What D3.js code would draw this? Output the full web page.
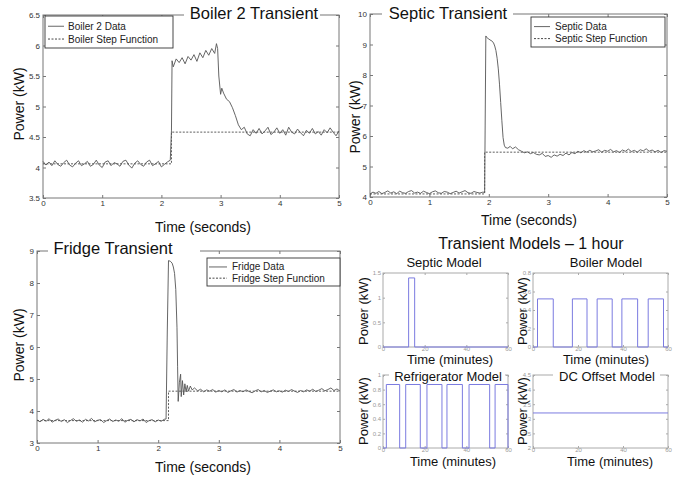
<!DOCTYPE html>
<html>
<head>
<meta charset="utf-8">
<title>Transients</title>
<script src="https://cdn.jsdelivr.net/npm/d3@7"></script>
<style>
  body { margin: 0; background: #fff; }
  svg { display: block; }
</style>
</head>
<body>
<script>
// ---- data ----
const secondTicks = [0, 1, 2, 3, 4, 5];
const minuteTicks = [0, 20, 40, 60];
const boilerYTicks = [3.5, 4, 4.5, 5, 5.5, 6, 6.5];
const septicYTicks = [4, 5, 6, 7, 8, 9, 10];
const fridgeYTicks = [3, 4, 5, 6, 7, 8, 9];

// [seconds, kW]
const boilerData = [
  [0,4.10],[0.05,4.04],[0.1,4.09],[0.15,4.03],[0.2,4.11],[0.25,4.05],[0.3,4.02],[0.35,4.08],[0.4,4.12],[0.45,4.04],
  [0.5,4.01],[0.55,4.07],[0.6,4.11],[0.65,4.03],[0.7,4.06],[0.75,4.10],[0.8,4.02],[0.85,4.05],[0.9,4.12],[0.95,4.04],
  [1.0,4.00],[1.05,4.09],[1.1,4.11],[1.15,4.03],[1.2,4.08],[1.25,4.06],[1.3,4.02],[1.35,4.10],[1.4,4.12],[1.45,4.04],
  [1.5,3.99],[1.55,4.07],[1.6,4.11],[1.65,4.05],[1.7,4.02],[1.75,4.09],[1.8,4.12],[1.85,4.03],[1.9,4.06],[1.95,4.10],
  [2.0,4.01],[2.05,4.05],[2.1,4.09],[2.15,4.12],[2.17,4.6],[2.18,5.75],[2.2,5.65],[2.25,5.78],[2.3,5.72],[2.35,5.80],
  [2.4,5.70],[2.45,5.82],[2.5,5.76],[2.55,5.85],[2.6,5.74],[2.65,5.88],[2.7,5.80],[2.75,5.92],[2.8,5.84],[2.85,5.95],
  [2.9,5.87],[2.93,6.03],[2.95,5.95],[2.97,5.5],[3.0,5.2],[3.02,5.3],[3.05,5.22],[3.1,5.12],[3.15,5.08],[3.2,4.98],
  [3.25,4.85],[3.3,4.70],[3.35,4.62],[3.4,4.66],[3.45,4.55],[3.5,4.52],[3.55,4.62],[3.6,4.56],[3.65,4.64],[3.7,4.55],
  [3.75,4.60],[3.8,4.66],[3.85,4.54],[3.9,4.58],[3.95,4.65],[4.0,4.56],[4.05,4.62],[4.1,4.53],[4.15,4.66],[4.2,4.58],
  [4.25,4.55],[4.3,4.63],[4.35,4.57],[4.4,4.52],[4.45,4.61],[4.5,4.56],[4.55,4.64],[4.6,4.55],[4.65,4.59],[4.7,4.53],
  [4.75,4.62],[4.8,4.57],[4.85,4.65],[4.9,4.58],[4.95,4.52],[5.0,4.60]
];
const boilerStep = [[0,4.06],[2.17,4.06],[2.17,4.58],[5,4.58]];

const septicData = [
  [0,4.10],[0.05,4.16],[0.1,4.12],[0.15,4.18],[0.2,4.11],[0.25,4.15],[0.3,4.20],[0.35,4.13],[0.4,4.17],[0.45,4.11],
  [0.5,4.19],[0.55,4.14],[0.6,4.12],[0.65,4.18],[0.7,4.21],[0.75,4.13],[0.8,4.16],[0.85,4.12],[0.9,4.19],[0.95,4.15],
  [1.0,4.11],[1.05,4.17],[1.1,4.20],[1.15,4.14],[1.2,4.12],[1.25,4.18],[1.3,4.16],[1.35,4.11],[1.4,4.15],[1.45,4.19],
  [1.5,4.13],[1.55,4.17],[1.6,4.21],[1.65,4.14],[1.7,4.12],[1.75,4.18],[1.8,4.15],[1.85,4.13],[1.9,4.16],[1.93,4.15],
  [1.95,9.28],[1.98,9.2],[2.0,9.18],[2.02,9.15],[2.05,9.12],[2.08,9.05],[2.1,8.95],[2.12,8.8],[2.14,8.55],[2.16,8.2],
  [2.18,7.7],[2.2,7.1],[2.22,6.5],[2.24,5.95],[2.26,5.7],[2.28,5.62],[2.32,5.60],[2.36,5.66],[2.4,5.58],[2.45,5.64],
  [2.5,5.55],[2.55,5.50],[2.6,5.45],[2.65,5.48],[2.7,5.42],[2.75,5.46],[2.8,5.40],[2.85,5.38],[2.9,5.43],[2.95,5.33],
  [3.0,5.36],[3.05,5.30],[3.1,5.38],[3.15,5.34],[3.2,5.40],[3.25,5.36],[3.3,5.44],[3.35,5.38],[3.4,5.46],[3.45,5.42],
  [3.5,5.50],[3.55,5.45],[3.6,5.52],[3.65,5.47],[3.7,5.53],[3.75,5.48],[3.8,5.51],[3.85,5.55],[3.9,5.47],[3.95,5.53],
  [4.0,5.50],[4.05,5.56],[4.1,5.48],[4.15,5.52],[4.2,5.46],[4.25,5.54],[4.3,5.50],[4.35,5.57],[4.4,5.49],[4.45,5.53],
  [4.5,5.47],[4.55,5.55],[4.6,5.51],[4.65,5.58],[4.7,5.50],[4.75,5.54],[4.8,5.48],[4.85,5.53],[4.9,5.46],[4.95,5.52],
  [5.0,5.50]
];
const septicStep = [[0,4.1],[1.93,4.1],[1.93,5.47],[5,5.47]];

const fridgeData = [
  [0,3.72],[0.05,3.66],[0.1,3.74],[0.15,3.68],[0.2,3.76],[0.25,3.65],[0.3,3.71],[0.35,3.75],[0.4,3.67],[0.45,3.73],
  [0.5,3.64],[0.55,3.70],[0.6,3.76],[0.65,3.68],[0.7,3.72],[0.75,3.65],[0.8,3.74],[0.85,3.69],[0.9,3.77],[0.95,3.66],
  [1.0,3.71],[1.05,3.73],[1.1,3.64],[1.15,3.70],[1.2,3.75],[1.25,3.67],[1.3,3.72],[1.35,3.68],[1.4,3.76],[1.45,3.65],
  [1.5,3.71],[1.55,3.74],[1.6,3.66],[1.65,3.73],[1.7,3.69],[1.75,3.75],[1.8,3.64],[1.85,3.70],[1.9,3.73],[1.95,3.66],
  [2.0,3.72],[2.05,3.68],[2.1,3.74],[2.13,3.75],[2.15,6.5],[2.17,8.7],[2.2,8.68],[2.23,8.62],[2.25,8.5],[2.27,8.3],
  [2.29,7.8],[2.31,6.6],[2.32,5.4],[2.33,4.3],[2.35,4.9],[2.37,5.15],[2.38,4.45],[2.4,4.95],[2.42,4.5],[2.44,4.85],
  [2.46,4.6],[2.48,4.8],[2.5,4.62],[2.53,4.78],[2.56,4.66],[2.6,4.72],[2.65,4.63],[2.7,4.68],[2.75,4.60],[2.8,4.66],
  [2.85,4.62],[2.9,4.67],[2.95,4.59],[3.0,4.64],[3.05,4.60],[3.1,4.66],[3.15,4.58],[3.2,4.63],[3.25,4.67],[3.3,4.59],
  [3.35,4.64],[3.4,4.60],[3.45,4.66],[3.5,4.61],[3.55,4.57],[3.6,4.63],[3.65,4.67],[3.7,4.60],[3.75,4.64],[3.8,4.58],
  [3.85,4.62],[3.9,4.66],[3.95,4.60],[4.0,4.63],[4.05,4.59],[4.1,4.65],[4.15,4.61],[4.2,4.67],[4.25,4.62],[4.3,4.58],
  [4.35,4.64],[4.4,4.60],[4.45,4.66],[4.5,4.62],[4.55,4.68],[4.6,4.61],[4.65,4.65],[4.7,4.70],[4.75,4.63],[4.8,4.67],
  [4.85,4.72],[4.9,4.64],[4.95,4.69],[5.0,4.62]
];
const fridgeStep = [[0,3.7],[2.17,3.7],[2.17,4.62],[5,4.62]];

// one hour models: on-intervals in minutes and the on level in kW
const septicModelPulses = [[12.3, 15.2]];
const septicModelLevel = 1.4;
const boilerModelPulses = [[2, 9], [17.5, 24], [28.5, 35.2], [39.5, 46.5], [51.2, 58]];
const boilerModelLevel = 0.52;
const fridgeModelPulses = [[1.6, 8], [10.9, 17.9], [21.1, 28.3], [30.7, 38.1], [41.3, 51.2], [53.8, 60]];
const fridgeModelLevel = 0.87;
const dcModelLevel = 3.2;

const septicModelYTicks = [0, 0.5, 1, 1.5];
const boilerModelYTicks = [0, 0.2, 0.4, 0.6, 0.8];
const fridgeModelYTicks = [0, 0.2, 0.4, 0.6, 0.8, 1];
const dcModelYTicks = [2, 2.5, 3, 3.5, 4, 4.5];

// ---- drawing ----
const FONT = "'Liberation Sans', Arial, Helvetica, sans-serif";
const svg = d3.select("body").append("svg")
  .attr("width", 678).attr("height", 478)
  .attr("font-family", FONT);

const fmt = d3.format("~g");

function styleAxis(sel, color, textColor, size) {
  sel.attr("font-family", FONT).attr("font-size", size);
  sel.select(".domain").remove();
  sel.selectAll(".tick line").attr("stroke", color);
  sel.selectAll(".tick text").attr("fill", textColor);
}

// draws box, inward ticks on all 4 sides, labels on left/bottom
function frame(g, x, y, xTicks, yTicks, o) {
  const [x0, x1] = x.range();
  const [y1, y0] = y.range();
  g.append("g").attr("transform", `translate(0,${y1})`)
    .call(d3.axisBottom(x).tickValues(xTicks).tickSize(-o.tick).tickSizeOuter(0).tickPadding(o.xPad).tickFormat(fmt))
    .call(styleAxis, o.axis, o.text, o.fs);
  g.append("g").attr("transform", `translate(0,${y0})`)
    .call(d3.axisTop(x).tickValues(xTicks).tickSize(-o.tick).tickSizeOuter(0).tickFormat(""))
    .call(styleAxis, o.axis, o.text, o.fs);
  g.append("g").attr("transform", `translate(${x0},0)`)
    .call(d3.axisLeft(y).tickValues(yTicks).tickSize(-o.tick).tickSizeOuter(0).tickPadding(o.yPad).tickFormat(fmt))
    .call(styleAxis, o.axis, o.text, o.fs);
  g.append("g").attr("transform", `translate(${x1},0)`)
    .call(d3.axisRight(y).tickValues(yTicks).tickSize(-o.tick).tickSizeOuter(0).tickFormat(""))
    .call(styleAxis, o.axis, o.text, o.fs);
  g.append("rect")
    .attr("x", x0).attr("y", y0).attr("width", x1 - x0).attr("height", y1 - y0)
    .attr("fill", "none").attr("stroke", o.axis).attr("stroke-width", 1);
}

function titleOnAxis(g, text, cx, baseline, boxX0, boxX1, top, size) {
  g.append("rect").attr("x", boxX0).attr("y", top - 3).attr("width", boxX1 - boxX0).attr("height", 6)
    .attr("fill", "#fff");
  g.append("text").attr("x", cx).attr("y", baseline).attr("text-anchor", "middle")
    .attr("font-size", size).attr("fill", "#111").text(text);
}

function mainPanel(c) {
  const g = svg.append("g");
  const x = d3.scaleLinear().domain([0, 5]).range([c.x0, c.x1]);
  const y = d3.scaleLinear().domain(c.yDomain).range([c.y1, c.y0]);
  frame(g, x, y, secondTicks, c.yTicks, { tick: 3, xPad: 2, yPad: 3, axis: "#777", text: "#333", fs: 8 });

  const line = d3.line().x(d => x(d[0])).y(d => y(d[1]));
  g.append("path").datum(c.step).attr("d", line)
    .attr("fill", "none").attr("stroke", "#333").attr("stroke-width", 0.8)
    .attr("stroke-dasharray", "2,1.5");
  g.append("path").datum(c.data).attr("d", line)
    .attr("fill", "none").attr("stroke", "#555").attr("stroke-width", 0.9)
    .attr("stroke-linejoin", "round");

  titleOnAxis(g, c.title, c.titleX, c.titleY, c.titleBox[0], c.titleBox[1], c.y0, 16.5);

  // legend
  const L = c.legend;
  g.append("rect").attr("x", L.x).attr("y", L.y).attr("width", L.w).attr("height", L.h)
    .attr("fill", "#fff").attr("stroke", "#333").attr("stroke-width", 0.9);
  const rows = [
    { label: L.labels[0], dash: null, color: "#555" },
    { label: L.labels[1], dash: "2,1.5", color: "#333" }
  ];
  rows.forEach((r, i) => {
    const ry = L.y + L.h * (i === 0 ? 0.32 : 0.72);
    g.append("line").attr("x1", L.x + L.lx0).attr("x2", L.x + L.lx1).attr("y1", ry).attr("y2", ry)
      .attr("stroke", r.color).attr("stroke-width", 0.9).attr("stroke-dasharray", r.dash);
    g.append("text").attr("x", L.x + L.tx).attr("y", ry).attr("dy", "0.35em")
      .attr("font-size", 10).attr("fill", "#222").text(r.label);
  });

  g.append("text").attr("x", c.xLabel[0]).attr("y", c.xLabel[1]).attr("text-anchor", "middle")
    .attr("font-size", 14).attr("fill", "#111").text("Time (seconds)");
  g.append("text").attr("transform", `translate(${c.yLabel[0]},${c.yLabel[1]}) rotate(-90)`)
    .attr("text-anchor", "middle").attr("font-size", 14).attr("fill", "#111").text("Power (kW)");
}

mainPanel({
  x0: 43, x1: 339, y0: 15, y1: 198, yDomain: [3.5, 6.5], yTicks: boilerYTicks,
  data: boilerData, step: boilerStep,
  title: "Boiler 2 Transient", titleX: 254, titleY: 19, titleBox: [184, 320],
  legend: { x: 45, y: 16, w: 128, h: 32, lx0: 3, lx1: 19, tx: 23, labels: ["Boiler 2 Data", "Boiler Step Function"] },
  xLabel: [203, 232], yLabel: [24, 104]
});
mainPanel({
  x0: 370, x1: 667, y0: 14, y1: 197, yDomain: [4, 10], yTicks: septicYTicks,
  data: septicData, step: septicStep,
  title: "Septic Transient", titleX: 448, titleY: 19, titleBox: [382, 513],
  legend: { x: 531, y: 17, w: 134, h: 30, lx0: 3, lx1: 19, tx: 24, labels: ["Septic Data", "Septic Step Function"] },
  xLabel: [529, 225], yLabel: [360, 117]
});
mainPanel({
  x0: 37, x1: 340, y0: 251, y1: 443, yDomain: [3, 9], yTicks: fridgeYTicks,
  data: fridgeData, step: fridgeStep,
  title: "Fridge Transient", titleX: 113, titleY: 254, titleBox: [48, 200],
  legend: { x: 207, y: 258, w: 133, h: 28, lx0: 2, lx1: 20, tx: 25, labels: ["Fridge Data", "Fridge Step Function"] },
  xLabel: [203, 472], yLabel: [24, 345]
});

// ---- one hour model panels ----
svg.append("text").attr("x", 531).attr("y", 248.5).attr("text-anchor", "middle")
  .attr("font-size", 16).attr("fill", "#111").text("Transient Models \u2013 1 hour");

function pulseSeries(pulses, level) {
  const pts = [[0, 0]];
  pulses.forEach(([s, e]) => { pts.push([s, 0], [s, level], [e, level], [e, 0]); });
  pts.push([60, 0]);
  return pts;
}

function modelPanel(c) {
  const g = svg.append("g");
  const x = d3.scaleLinear().domain([0, 60]).range([c.x0, c.x1]);
  const y = d3.scaleLinear().domain(c.yDomain).range([c.y1, c.y0]);
  frame(g, x, y, minuteTicks, c.yTicks, { tick: 2, xPad: 0, yPad: 2, axis: "#aaa", text: "#999", fs: 6 });
  const line = d3.line().x(d => x(d[0])).y(d => y(d[1]));
  g.append("path").datum(c.series).attr("d", line)
    .attr("fill", "none").attr("stroke", "#7b7be0").attr("stroke-width", 1);

  if (c.titleOnAxis) {
    titleOnAxis(g, c.title, c.titleX, c.titleY, c.titleBox[0], c.titleBox[1], c.y0, 13);
  } else {
    g.append("text").attr("x", c.titleX).attr("y", c.titleY).attr("text-anchor", "middle")
      .attr("font-size", 13).attr("fill", "#111").text(c.title);
  }
  g.append("text").attr("x", c.xLabel[0]).attr("y", c.xLabel[1]).attr("text-anchor", "middle")
    .attr("font-size", 13).attr("fill", "#111").text("Time (minutes)");
  g.append("text").attr("transform", `translate(${c.yLabel[0]},${c.yLabel[1]}) rotate(-90)`)
    .attr("text-anchor", "middle").attr("font-size", 13).attr("fill", "#111").text("Power (kW)");
}

modelPanel({
  x0: 383, x1: 508, y0: 273, y1: 347, yDomain: [0, 1.5], yTicks: septicModelYTicks,
  series: pulseSeries(septicModelPulses, septicModelLevel),
  title: "Septic Model", titleX: 444, titleY: 266.5,
  xLabel: [450, 364], yLabel: [368, 311]
});
modelPanel({
  x0: 533, x1: 668, y0: 273, y1: 347, yDomain: [0, 0.8], yTicks: boilerModelYTicks,
  series: pulseSeries(boilerModelPulses, boilerModelLevel),
  title: "Boiler Model", titleX: 606, titleY: 266.5,
  xLabel: [606, 364], yLabel: [527, 311]
});
modelPanel({
  x0: 383, x1: 508, y0: 375, y1: 448, yDomain: [0, 1], yTicks: fridgeModelYTicks,
  series: pulseSeries(fridgeModelPulses, fridgeModelLevel),
  title: "Refrigerator Model", titleX: 448, titleY: 380.5, titleOnAxis: true, titleBox: [389, 505],
  xLabel: [453, 466], yLabel: [368, 411]
});
modelPanel({
  x0: 533, x1: 668, y0: 375, y1: 448, yDomain: [2, 4.5], yTicks: dcModelYTicks,
  series: [[0, dcModelLevel], [60, dcModelLevel]],
  title: "DC Offset Model", titleX: 607, titleY: 380.5, titleOnAxis: true, titleBox: [553, 660],
  xLabel: [610, 466], yLabel: [527, 411]
});
</script>
</body>
</html>
